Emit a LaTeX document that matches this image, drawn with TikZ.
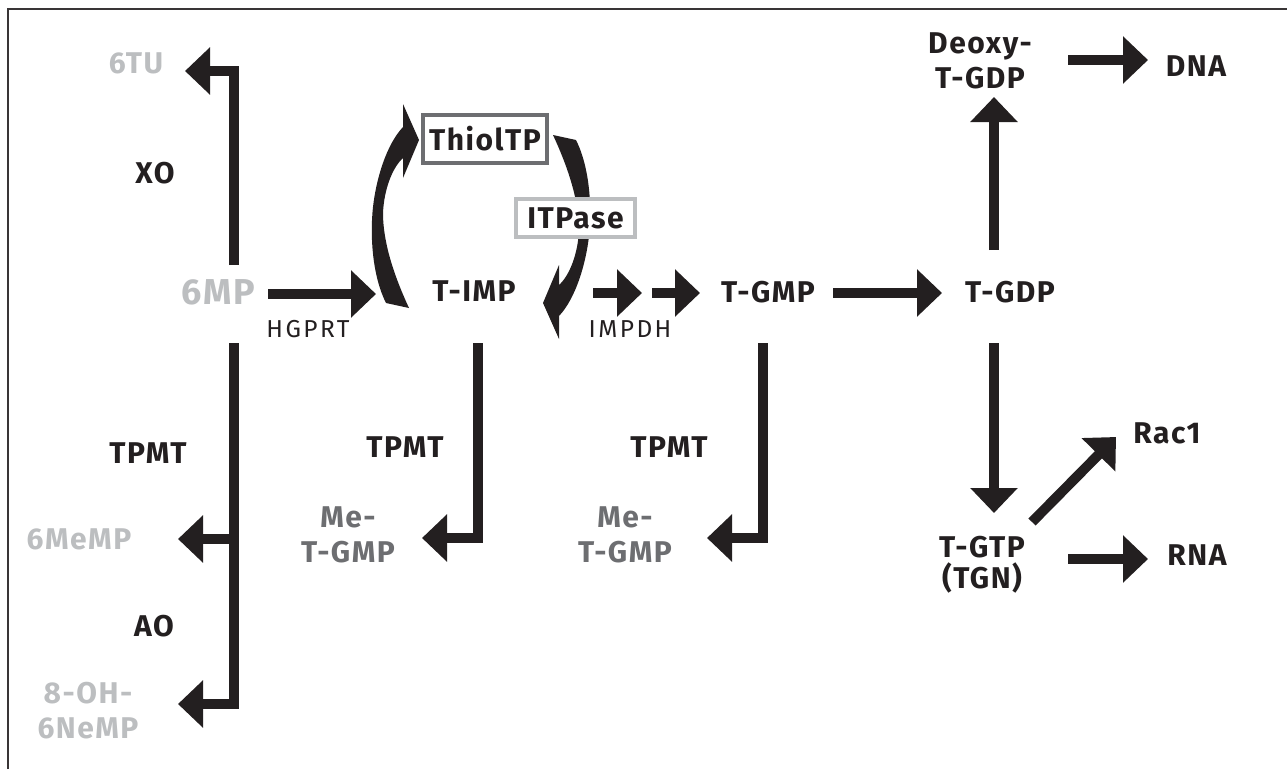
\documentclass[tikz,border=0pt]{standalone}
\usepackage{fontspec}
\setmainfont{Fira Sans}[LetterSpace=5]
\usetikzlibrary{arrows.meta}
\definecolor{ink}{HTML}{231F20}
\definecolor{lightg}{HTML}{BCBEC0}
\definecolor{midg}{HTML}{6D6E71}
\begin{document}
\begin{tikzpicture}[x=1pt,y=-1pt,
  lbl/.style={font=\bfseries\fontsize{30}{35}\selectfont, text=ink, align=center, inner sep=0pt, anchor=base},
  pale/.style={lbl, text=lightg},
  grey/.style={lbl, text=midg},
  enz/.style={font=\fontsize{24.5}{28}\selectfont\addfontfeature{LetterSpace=10}, text=ink, inner sep=0pt, anchor=base},
  flow/.style={line width=10pt, draw=ink, -{Triangle[width=46pt,length=25pt]}, line join=miter},
  rim/.style={line width=1.4pt, draw=ink!90},
  boxed/.style={lbl, anchor=center, fill=white, line width=4.5pt, minimum height=48pt}]
\useasboundingbox (0,0) rectangle (1287,769);
% frame
\coordinate (fa) at (8,769);
\coordinate (fb) at (8,9);
\coordinate (fc) at (1287,9);
\draw[rim] (fa) -- (fb) -- (fc);

% labels
\node[pale] (tu) at (136,73) {6TU};
\node[lbl] (xo) at (155,183) {XO};
\node[pale, font=\bfseries\fontsize{36}{40}\selectfont] (mp) at (218,304) {6MP};
\node[enz] (hgprt) at (308,337) {HGPRT};
\node[lbl] (tpmt1) at (148,463) {TPMT};
\node[pale] (memp) at (79,549) {6MeMP};
\node[lbl] (ao) at (154,636) {AO};
\node[pale] (oh) at (88,738) {8-OH-\\6NeMP};
\node[lbl] (timp) at (474,301) {T-IMP};
\node[enz] (impdh) at (630,337) {IMPDH};
\node[lbl] (tpmt2) at (405,457) {TPMT};
\node[grey] (metgmp1) at (348,562) {Me-\\T-GMP};
\node[lbl] (tgmp) at (768,302) {T-GMP};
\node[lbl] (tpmt3) at (669,457) {TPMT};
\node[grey] (metgmp2) at (625,562) {Me-\\T-GMP};
\node[lbl] (tgdp) at (1010,302) {T-GDP};
\node[lbl] (deoxy) at (980,88) {Deoxy-\\T-GDP};
\node[lbl] (dna) at (1196,76) {DNA};
\node[lbl, font=\bfseries\fontsize{30}{31}\selectfont] (tgtp) at (982,588) {T-GTP\\(TGN)};
\node[lbl] (rac) at (1167,443) {Rac1};
\node[lbl] (rna) at (1197,565) {RNA};

% swooshes
\fill[ink] (386,303) .. controls (372,275) and (370,235) .. (373,207)
  .. controls (376,180) and (386,145) .. (403,127) -- (403,104) -- (419,140)
  -- (403,178) -- (403,158) .. controls (392,168) and (384,190) .. (383,213)
  .. controls (383,245) and (396,280) .. (409,308) -- cycle;
\fill[ink] (576,140) .. controls (590,168) and (592,208) .. (589,236)
  .. controls (586,263) and (576,298) .. (559,316) -- (559,339) -- (543,303)
  -- (559,265) -- (559,285) .. controls (570,275) and (578,253) .. (579,230)
  .. controls (579,198) and (566,163) .. (553,135) -- cycle;

% boxes
\node[boxed, draw=midg, minimum width=124pt] (thiol) at (485,139) {ThiolTP};
\node[boxed, draw=lightg, minimum width=119pt, minimum height=38pt] (itp) at (575.5,218) {ITPase};

% arrow end points
\coordinate (a1s) at (234,265); \coordinate (a1e) at (185,71);
\coordinate (a2s) at (268,294); \coordinate (a2e) at (376,294);
\coordinate (a3s) at (234,343); \coordinate (a3e) at (178,704);
\coordinate (a4s) at (234,539); \coordinate (a4e) at (178,539);
\coordinate (a5s) at (478,343); \coordinate (a5e) at (422,538);
\coordinate (a6s) at (593,293); \coordinate (a6e) at (642,293);
\coordinate (a7s) at (652,293); \coordinate (a7e) at (700,293);
\coordinate (a8s) at (833,293); \coordinate (a8e) at (942,293);
\coordinate (a9s) at (763,343); \coordinate (a9e) at (707,538);
\coordinate (b1s) at (994,250); \coordinate (b1e) at (994,97);
\coordinate (b2s) at (1068,60); \coordinate (b2e) at (1148,60);
\coordinate (b3s) at (994,343); \coordinate (b3e) at (994,513);
\coordinate (b4s) at (1032,522); \coordinate (b4e) at (1116,437);
\coordinate (b5s) at (1068,559); \coordinate (b5e) at (1148,559);

\draw[flow] (a1s) |- (a1e);
\draw[flow] (a2s) -- (a2e);
\draw[flow] (a3s) |- (a3e);
\draw[flow] (a4s) -- (a4e);
\draw[flow] (a5s) |- (a5e);
\draw[flow] (a6s) -- (a6e);
\draw[flow] (a7s) -- (a7e);
\draw[flow] (a8s) -- (a8e);
\draw[flow] (a9s) |- (a9e);
\draw[flow] (b1s) -- (b1e);
\draw[flow] (b2s) -- (b2e);
\draw[flow] (b3s) -- (b3e);
\draw[flow] (b4s) -- (b4e);
\draw[flow] (b5s) -- (b5e);
\end{tikzpicture}
\end{document}
